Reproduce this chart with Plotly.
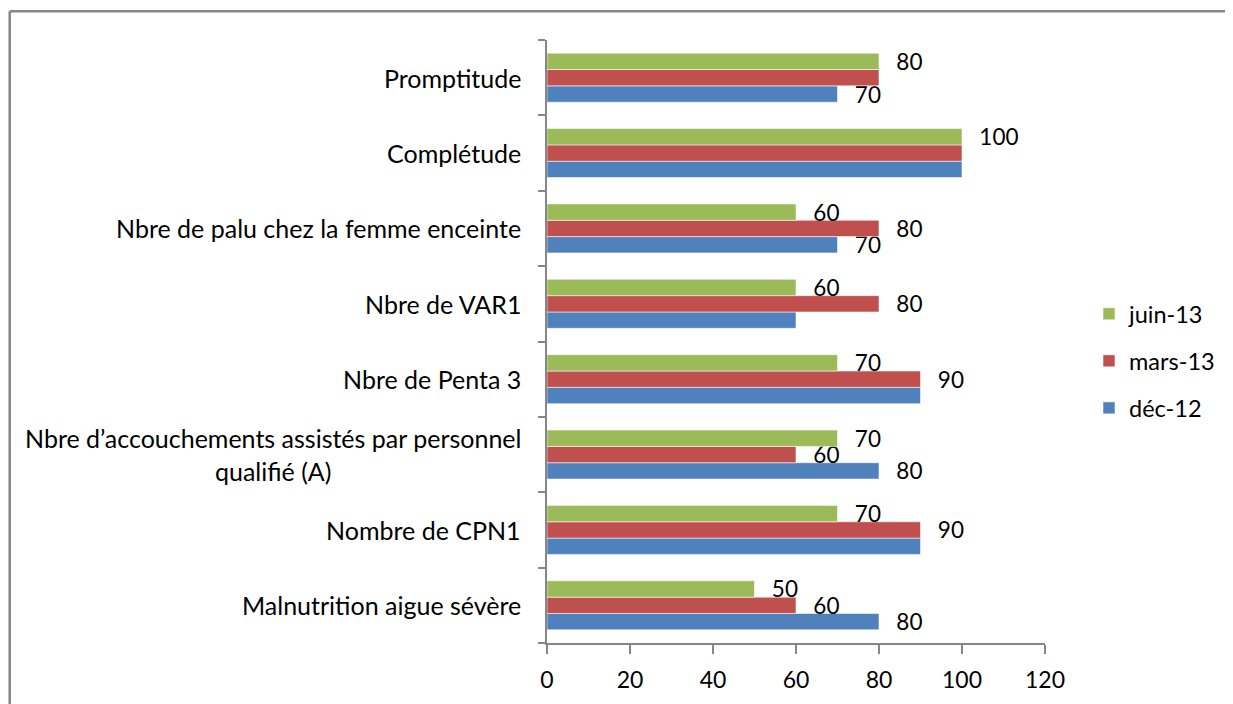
import plotly.graph_objects as go

categories = [
    "Malnutrition aigue sévère",
    "Nombre de CPN1",
    "Nbre d’accouchements assistés par personnel<br>qualifié (A)",
    "Nbre de Penta 3",
    "Nbre de VAR1",
    "Nbre de palu chez la femme enceinte",
    "Complétude",
    "Promptitude",
]
series_names = ["déc-12", "mars-13", "juin-13"]
dec12 = [80, 90, 80, 90, 60, 70, 100, 70]
mars13 = [60, 90, 60, 90, 80, 80, 100, 80]
juin13 = [50, 70, 70, 70, 60, 60, 100, 80]
# which data labels are visible in the original (overlapping ones are hidden)
dec12_shown = [True, False, True, False, False, True, False, True]
mars13_shown = [True, True, True, True, True, True, False, False]
juin13_shown = [True, True, True, True, True, True, True, True]
x_ticks = [0, 20, 40, 60, 80, 100, 120]

colors = ["#4F81BD", "#C0504D", "#9BBB59"]
legend_ranks = [3, 2, 1]
FONT = "Lato, 'Open Sans', sans-serif"

# page has an 8px body margin: work in figure coordinates = screen - 8
OFF = 8
W, H = 1233 - OFF, 704 - OFF
PL, PR, PT, PB = 547 - OFF, 1045 - OFF, 40 - OFF, 643 - OFF
L, R, T, B = PL, W - PR, PT, H - PB
PW, PH = PR - PL, PB - PT

fig = go.Figure()
for name, vals, shown, col, rk in zip(series_names, [dec12, mars13, juin13],
                                       [dec12_shown, mars13_shown, juin13_shown], colors, legend_ranks):
    txt = ["\u00a0\u00a0\u2009" + str(v) if s else "" for v, s in zip(vals, shown)]
    fig.add_trace(go.Bar(
        y=categories, x=vals, name=name, orientation="h",
        marker=dict(color=col, line=dict(color="rgba(255,255,255,0.55)", width=1)),
        text=txt, textposition="outside", constraintext="none",
        textfont=dict(family=FONT, size=22.5, color="#000000"),
        cliponaxis=False, legendgroup=name, legendrank=rk, hoverinfo="x+name",
    ))

# category labels (centered multi-line, right aligned block)
for c in categories:
    fig.add_annotation(x=0, xref="paper", y=c, yref="y", text=c, showarrow=False,
                       xanchor="right", xshift=-24, align="center",
                       font=dict(family=FONT, size=25, color="#000000"))

# outer frame: only left and top edges are visible in the picture
fx0 = (9.7 - OFF - PL) / PW
fy1 = (PB - (11.3 - OFF)) / PH
fxr = (W + 30 - PL) / PW
fyb = (PB - (H + 30)) / PH
frame_line = dict(color="#878787", width=2.5)
fig.add_shape(type="line", xref="paper", yref="paper", x0=fx0, x1=fx0, y0=fyb, y1=fy1,
              line=frame_line, layer="below")
fig.add_shape(type="line", xref="paper", yref="paper", x0=fx0, x1=fxr, y0=fy1, y1=fy1,
              line=frame_line, layer="below")

fig.update_layout(
    width=W, height=H,
    margin=dict(l=L, r=R, t=T, b=B, autoexpand=False),
    paper_bgcolor="white", plot_bgcolor="white",
    barmode="group", bargap=0.35, bargroupgap=0,
    font=dict(family=FONT, size=23, color="#000000"),
    legend=dict(x=(1089 - OFF - PL) / PW, y=(PB - (361 - OFF)) / PH, xanchor="left", yanchor="middle",
                traceorder="grouped", tracegroupgap=13.5,
                font=dict(family=FONT, size=23.5, color="#000000"),
                bgcolor="rgba(0,0,0,0)"),
    xaxis=dict(range=[0, 120], tickvals=x_ticks, showgrid=False, zeroline=False,
               showline=True, linecolor="#868686", linewidth=1.5,
               ticks="outside", ticklen=9, tickcolor="#868686", tickwidth=1.5,
               ticklabelstandoff=7,
               tickfont=dict(family=FONT, size=23, color="#000000")),
    yaxis=dict(showgrid=False, zeroline=False, showline=True, linecolor="#868686", linewidth=1.5,
               ticks="outside", ticklen=7, tickcolor="#868686", tickwidth=1.5,
               tickson="boundaries", showticklabels=False,
               range=[-0.5, len(categories) - 0.5]),
)

fig.write_html("out.html")
